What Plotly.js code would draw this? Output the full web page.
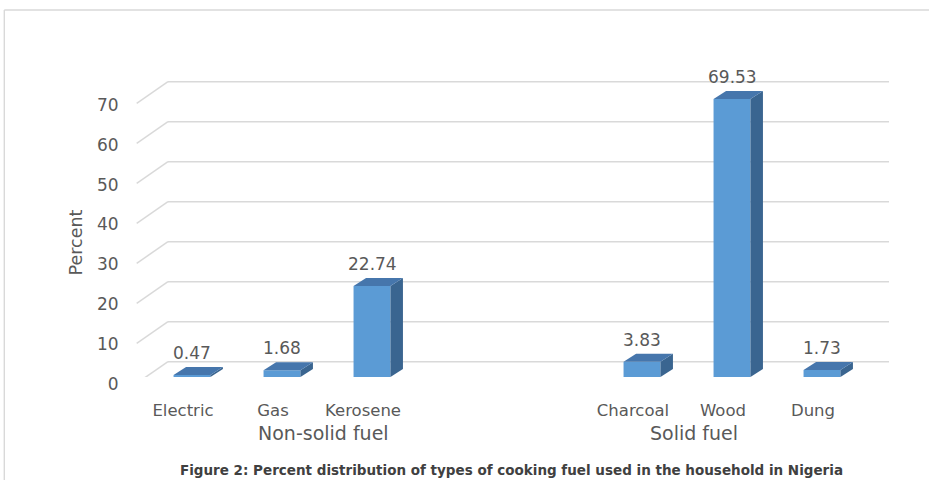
<!DOCTYPE html>
<html><head><meta charset="utf-8">
<script src="https://cdn.plot.ly/plotly-3.0.1.min.js"></script>
<style>html,body{margin:0;padding:0;background:#fff}#chart{width:929px;height:480px}</style>
</head><body><div id="chart"></div>
<script>
// ---- data ----
const fuels = ['Electric', 'Gas', 'Kerosene', 'Charcoal', 'Wood', 'Dung'];
const fuelGroup = [0, 0, 0, 1, 1, 1];
const groups = ['Non-solid fuel', 'Solid fuel'];
const percent = [0.47, 1.68, 22.74, 3.83, 69.53, 1.73];
const yTicks = [0, 10, 20, 30, 40, 50, 60, 70];
const yTickText = ['0', '10', '20', '30', '40', '50', '60', '70'];
const caption = 'Figure 2: Percent distribution of types of cooking fuel used in the household in Nigeria';
const yTitle = 'Percent';

// ---- layout constants ----
const W = 929, H = 480, ML = 147, MR = 62, MT = 77, MB = 96;
const PW = W - ML - MR, PH = H - MT - MB;    // 720 x 307
const LIFT = 7;                               // bar plane starts LIFT px above bottom margin
const XR = [-0.5, 7.5], YR = [0, 75];
const GROUP_STEP = 5;
const BAR_W = 0.41;
const DX = 12.5, DY = 8;            // bar depth in px
const GRID_UP = 15.3;               // back wall offset (px up from bar plane)
const LABEL_DOWN = 6.3;             // front edge of the side wall (px down from bar plane)
const TICKLBL_DOWN = 8;             // tick label plane (px down from bar plane)
const pxPerX = PW / (XR[1] - XR[0]);
const pxPerY = (PH - LIFT) / (YR[1] - YR[0]);
const px2px = p => (p - ML) / PW;
const py2py = p => (H - MB - p) / PH;
const hw = BAR_W * pxPerX / 2;

const pos = fuels.map((f, i) => fuelGroup[i] * GROUP_STEP + (i - fuelGroup.indexOf(fuelGroup[i])));

const FONT = 'DejaVu Sans';
const GRAY = '#595959';
const GRID = '#d9d9d9';
const FRONT = '#5B9BD5', TOP = '#4676AC', SIDE = '#3A6590';

const shapes = [];
// border
shapes.push({type: 'line', xref: 'paper', yref: 'paper', x0: px2px(4.3), x1: px2px(4.3), y0: py2py(10), y1: py2py(481), line: {color: GRID, width: 1.4}, layer: 'below'});
shapes.push({type: 'line', xref: 'paper', yref: 'paper', x0: px2px(4.3), x1: px2px(930), y0: py2py(10), y1: py2py(10), line: {color: GRID, width: 1.4}, layer: 'below'});
// back wall grid + side diagonals
yTicks.forEach(v => {
  shapes.push({type: 'line', xref: 'paper', x0: px2px(168), x1: px2px(889), yref: 'y', ysizemode: 'pixel', yanchor: v, y0: GRID_UP, y1: GRID_UP, line: {color: GRID, width: 1.5}, layer: 'below'});
  shapes.push({type: 'line', xref: 'paper', x0: px2px(136.7), x1: px2px(168), yref: 'y', ysizemode: 'pixel', yanchor: v, y0: -LABEL_DOWN, y1: GRID_UP, line: {color: GRID, width: 1.5}, layer: 'below'});
});
// 3D faces of the bars
const dyU = DY / pxPerY;
percent.forEach((v, i) => {
  shapes.push({type: 'path', xref: 'x', yref: 'y', xsizemode: 'pixel', xanchor: pos[i],
    path: `M ${hw},0 L ${hw + DX},${dyU} L ${hw + DX},${v + dyU} L ${hw},${v} Z`,
    fillcolor: SIDE, line: {width: 0}});
  shapes.push({type: 'path', xref: 'x', yref: 'y', xsizemode: 'pixel', xanchor: pos[i], ysizemode: 'pixel', yanchor: v,
    path: `M ${-hw},0 L ${hw},0 L ${hw + DX},${DY} L ${-hw + DX},${DY} Z`,
    fillcolor: TOP, line: {width: 0}});
});

const annotations = [];
percent.forEach((v, i) => {
  annotations.push({x: pos[i], y: v, xref: 'x', yref: 'y', text: v.toFixed(2), showarrow: false,
    yanchor: 'bottom', yshift: 10, font: {family: FONT, size: 17, color: GRAY}});
});
const groupPx = [323, 693.5];
groups.forEach((g, k) => {
  annotations.push({x: px2px(groupPx[k]), y: py2py(433), xref: 'paper', yref: 'paper', text: g, showarrow: false,
    xanchor: 'center', yanchor: 'middle', font: {family: FONT, size: 19, color: GRAY}});
});
annotations.push({x: px2px(75.5), y: py2py(243), xref: 'paper', yref: 'paper', text: yTitle, textangle: -90, showarrow: false,
  xanchor: 'center', yanchor: 'middle', font: {family: FONT, size: 17.5, color: GRAY}});

const data = [
  {type: 'bar', x: pos, y: percent, width: BAR_W, marker: {color: FRONT, line: {width: 0}},
   hoverinfo: 'skip', showlegend: false},
  // carrier for the front tick-label plane axis
  {type: 'scatter', mode: 'none', x: [pos[0]], y: [yTicks[0]], xaxis: 'x', yaxis: 'y2', hoverinfo: 'skip', showlegend: false}
];

const dom = LIFT / PH, shift = TICKLBL_DOWN / PH;
const layout = {
  width: W, height: H,
  margin: {l: ML, r: MR, t: MT, b: MB, pad: 0},
  paper_bgcolor: '#fff', plot_bgcolor: 'rgba(0,0,0,0)',
  showlegend: false,
  title: {text: caption, xref: 'container', yref: 'container', x: 511.5 / W, y: 1 - 470 / H,
    xanchor: 'center', yanchor: 'middle', font: {family: FONT, size: 13.5, weight: 700, color: '#404040'}},
  xaxis: {range: XR, tickmode: 'array', tickvals: pos, ticktext: fuels, showgrid: false, zeroline: false, showline: false,
    anchor: 'y', ticks: '', ticklabelshift: -9, ticklabelstandoff: 21, tickfont: {family: FONT, size: 16.5, color: GRAY}, fixedrange: true},
  yaxis: {domain: [dom, 1], range: YR, showticklabels: false, showgrid: false, zeroline: false, showline: false,
    ticks: '', anchor: 'x', fixedrange: true},
  yaxis2: {domain: [dom - shift, 1 - shift], range: YR, tickmode: 'array', tickvals: yTicks, ticktext: yTickText,
    showgrid: false, zeroline: false, showline: false, anchor: 'x',
    ticks: 'outside', ticklen: 24, tickcolor: 'rgba(0,0,0,0)', tickfont: {family: FONT, size: 17, color: GRAY}, fixedrange: true},
  shapes: shapes,
  annotations: annotations
};

Plotly.newPlot('chart', data, layout, {displayModeBar: false, staticPlot: true});
</script>
</body></html>
